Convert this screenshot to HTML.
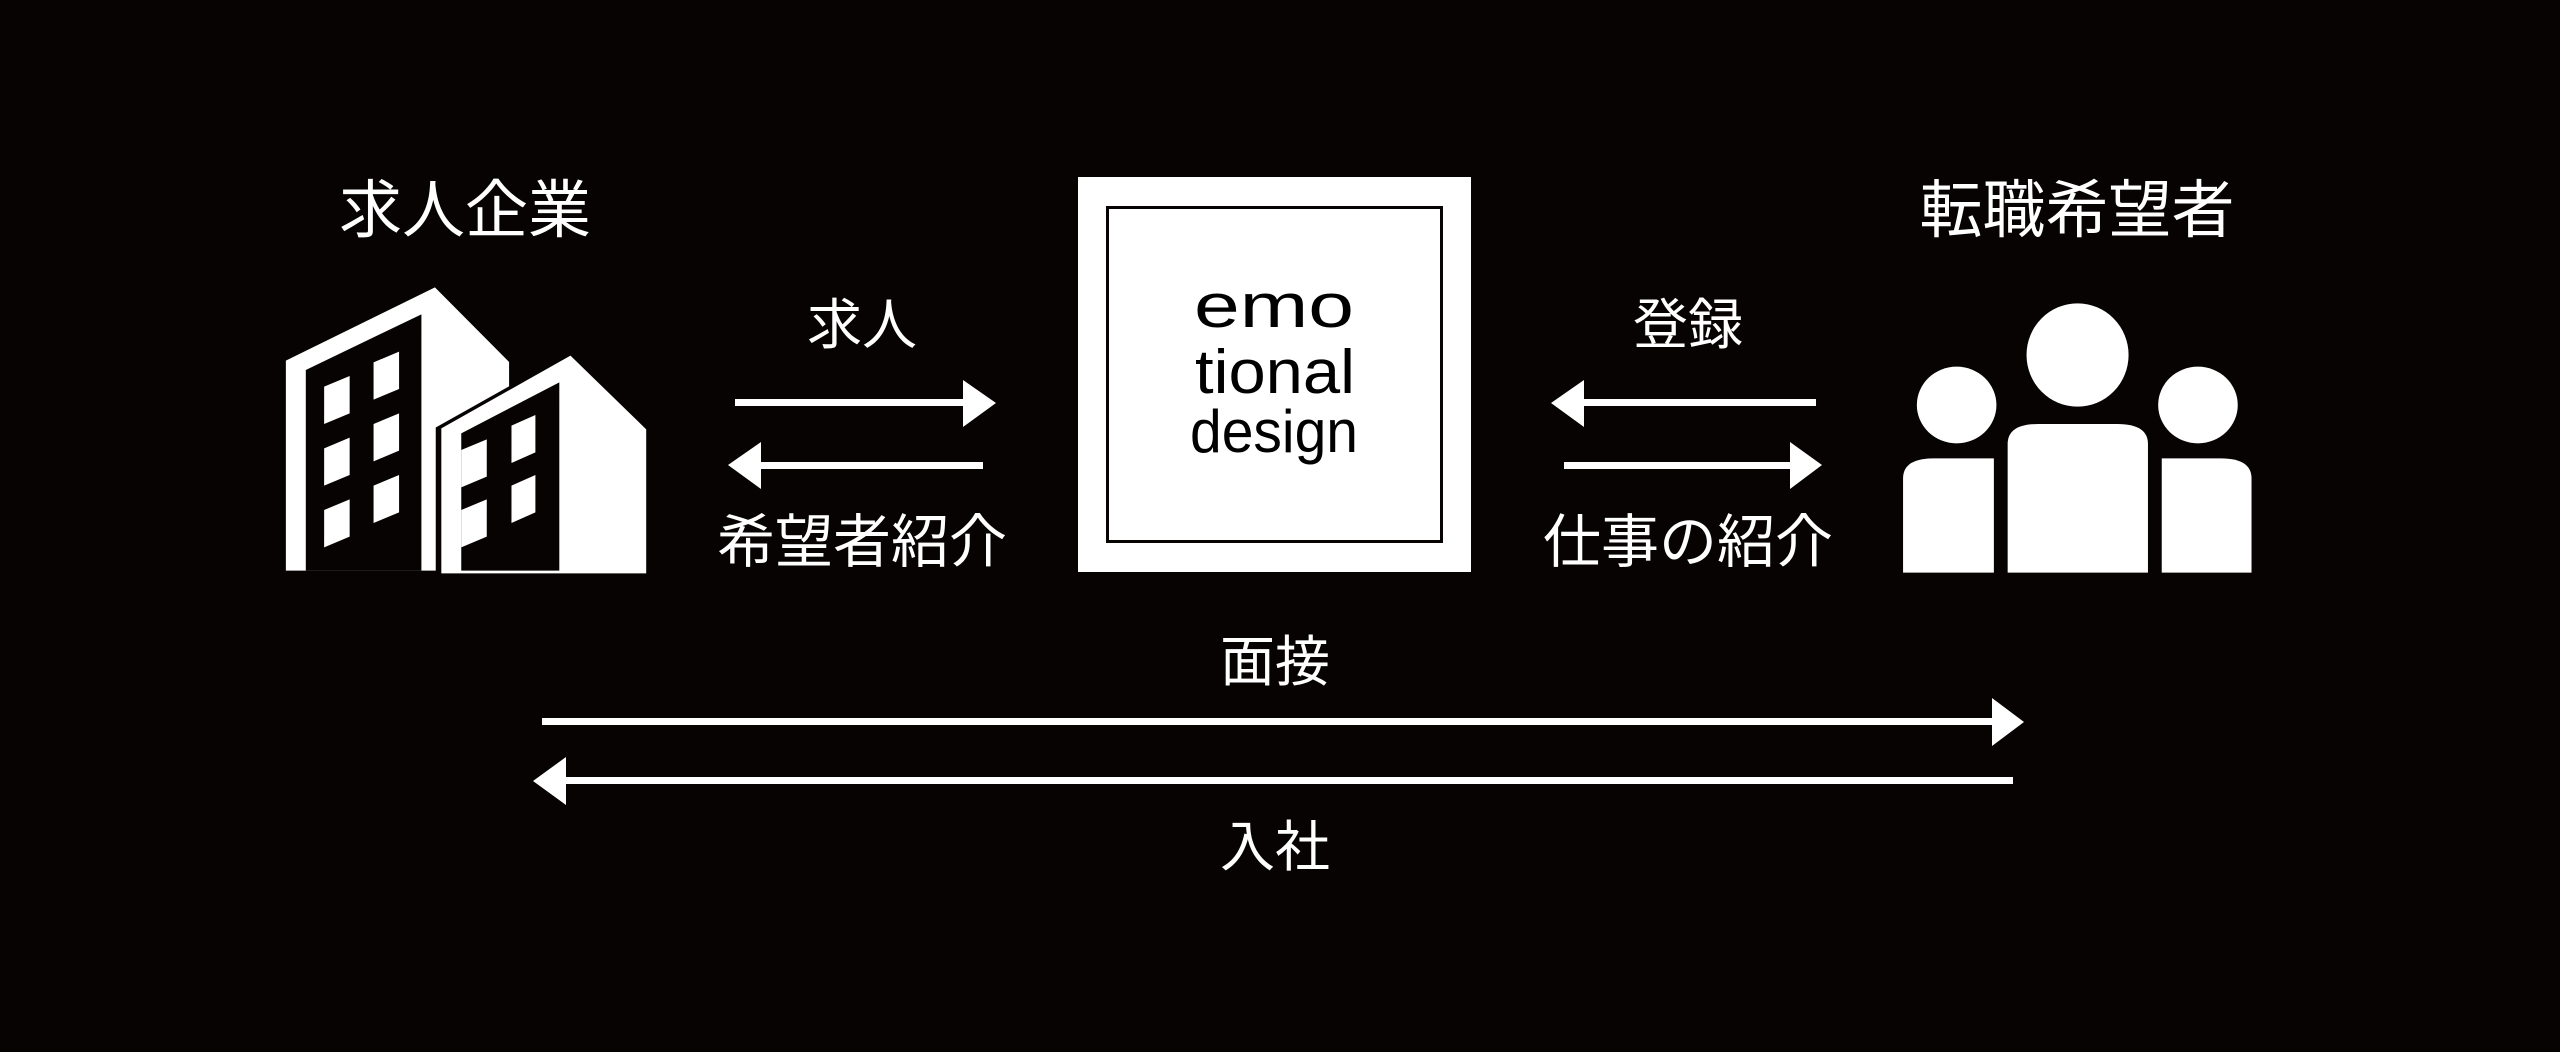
<!DOCTYPE html>
<html><head><meta charset="utf-8"><style>
html,body{margin:0;padding:0;background:#070303;}
svg{display:block;}
text{font-family:"Liberation Sans","Noto Sans CJK JP",sans-serif;fill:#fff;}
</style></head><body>
<svg width="2560" height="1052" viewBox="0 0 2560 1052" xmlns="http://www.w3.org/2000/svg">
<rect width="2560" height="1052" fill="#070303"/>
<!-- titles -->
<text x="465" y="232" font-size="63" text-anchor="middle">求人企業</text>
<text x="2077" y="232" font-size="63" text-anchor="middle">転職希望者</text>
<!-- building -->
<svg x="250" y="150" width="1250" height="450" viewBox="0 0 1568 1350" preserveAspectRatio="none" overflow="visible">
  <polygon points="45,1262 45,632 232,412 325,636 325,1262" fill="#fff"/>
  <polygon points="70,1262 70,660 215,493 215,1262" fill="#070303"/>
  <polygon points="240,1262 240,835 402,617 497,838 497,1262" fill="#fff" stroke="#070303" stroke-width="14"/>
  <polygon points="240,1270 240,835 402,617 497,838 497,1270" fill="#fff"/>
  <polygon points="265,1262 265,850 388,697 388,1262" fill="#070303"/>
  <g fill="#fff">
    <polygon points="93,710 125,678 125,790 93,822"/>
    <polygon points="93,895 125,863 125,975 93,1007"/>
    <polygon points="93,1080 125,1048 125,1160 93,1192"/>
    <polygon points="155,637 187,605 187,717 155,749"/>
    <polygon points="155,822 187,790 187,902 155,934"/>
    <polygon points="155,1007 187,975 187,1087 155,1119"/>
    <polygon points="265,900 297,868 297,980 265,1012"/>
    <polygon points="265,1080 297,1048 297,1160 265,1192"/>
    <polygon points="328,827 358,795 358,907 328,939"/>
    <polygon points="328,1007 358,975 358,1087 328,1119"/>
  </g>
</svg>
<!-- people -->
<svg x="1500" y="150" width="800" height="450" viewBox="0 0 1568 1350" preserveAspectRatio="none" overflow="visible">
  <g fill="#fff">
    <ellipse cx="895" cy="765" rx="78" ry="115"/>
    <ellipse cx="1132" cy="615" rx="100" ry="155"/>
    <ellipse cx="1368" cy="765" rx="78" ry="115"/>
    <path d="M790,1268 V985 Q790,925 850,925 H968 V1268 Z"/>
    <path d="M995,1268 V882 Q995,822 1055,822 H1210 Q1270,822 1270,882 V1268 Z"/>
    <path d="M1297,1268 V925 H1413 Q1473,925 1473,985 V1268 Z"/>
  </g>
</svg>
<!-- center box -->
<rect x="1078" y="177" width="393" height="395" fill="#fff"/>
<rect x="1107.5" y="207.5" width="334" height="334" fill="#fff" stroke="#070303" stroke-width="3"/>
<g style="font-family:'Liberation Sans',sans-serif">
<text x="1194" y="327" font-size="62" textLength="160" lengthAdjust="spacingAndGlyphs" style="fill:#000">emo</text>
<text x="1195" y="393" font-size="62" textLength="160" lengthAdjust="spacingAndGlyphs" style="fill:#000">tional</text>
<text x="1190" y="452" font-size="60" textLength="168" lengthAdjust="spacingAndGlyphs" style="fill:#000">design</text>
</g>
<!-- left arrows -->
<g fill="#fff">
<rect x="735" y="399" width="235" height="7"/>
<polygon points="963,380 996,403 963,427"/>
<rect x="758" y="462" width="225" height="7"/>
<polygon points="761,442 728,465 761,489"/>
<rect x="1584" y="399" width="232" height="7"/>
<polygon points="1584,380 1551,403 1584,427"/>
<rect x="1564" y="462" width="228" height="7"/>
<polygon points="1790,442 1822,465 1790,489"/>
<rect x="542" y="718" width="1460" height="7"/>
<polygon points="1992,698 2024,722 1992,746"/>
<rect x="560" y="777" width="1453" height="7"/>
<polygon points="566,757 533,781 566,805"/>
</g>
<text x="862" y="344" font-size="55" text-anchor="middle">求人</text>
<text x="862" y="562" font-size="58" text-anchor="middle">希望者紹介</text>
<text x="1688" y="344" font-size="55" text-anchor="middle">登録</text>
<text x="1688" y="562" font-size="58" text-anchor="middle">仕事の紹介</text>
<text x="1275" y="681" font-size="55" text-anchor="middle">面接</text>
<text x="1275" y="866" font-size="55" text-anchor="middle">入社</text>
</svg>
</body></html>
